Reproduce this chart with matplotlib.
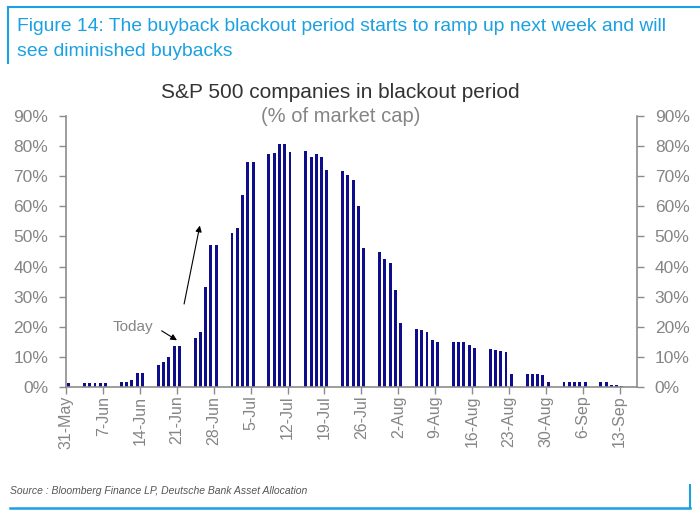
import numpy as np
import pandas as pd
import matplotlib
matplotlib.use('Agg')
import matplotlib.pyplot as plt
from matplotlib.lines import Line2D

# business days shown on the chart (no bars at weekends)
dates = pd.bdate_range('2019-05-31', '2019-09-13')

# % of S&P 500 market cap in blackout, one value per business day
blackout_pct = [
    1.5,
    1.5, 1.5, 1.5, 1.5, 1.5,
    1.8, 1.8, 2.3, 4.6, 4.6,
    7.3, 8.3, 9.9, 13.8, 13.8,
    16.2, 18.2, 33.3, 47.0, 47.0,
    51.0, 52.7, 63.7, 74.8, 74.8,
    77.2, 77.7, 80.5, 80.5, 78.1,
    78.3, 76.2, 77.2, 76.2, 71.9,
    71.7, 70.3, 68.6, 60.2, 46.3,
    44.8, 42.5, 41.1, 32.2, 21.3,
    19.2, 19.0, 18.4, 15.7, 14.9,
    14.9, 14.9, 14.9, 13.9, 13.1,
    12.6, 12.4, 12.1, 11.8, 4.4,
    4.4, 4.4, 4.4, 4.0, 1.7,
    1.7, 1.7, 1.7, 1.7, 1.7,
    1.7, 1.7, 0.8, 0.8, 0.3,
]

tick_labels = ['31-May', '7-Jun', '14-Jun', '21-Jun', '28-Jun', '5-Jul', '12-Jul',
               '19-Jul', '26-Jul', '2-Aug', '9-Aug', '16-Aug', '23-Aug', '30-Aug',
               '6-Sep', '13-Sep']
y_ticks = [0, 10, 20, 30, 40, 50, 60, 70, 80, 90]

W, H = 700, 519
BLUE = '#1BA1E2'
GREY = '#858585'
BAR = '#0E0E8C'

plt.rcParams['font.family'] = ['Liberation Sans', 'DejaVu Sans']

def fx(x):
    return x / W

def fy(y):
    return 1 - y / H

fig = plt.figure(figsize=(7.0, 5.19), dpi=100)
ax = fig.add_axes([fx(66.3), fy(387.3), fx(636.7 - 66.3), (387.3 - 115.7) / H])

x = (dates - dates[0]).days.values
ax.bar(x, blackout_pct, width=0.55, color=BAR, linewidth=0)

tick_pos = np.arange(len(tick_labels)) * 7 - 0.45
ax.set_xticks(tick_pos)
ax.set_xticklabels(tick_labels, rotation=90, color=GREY, fontsize=11.5)
ax.set_xlim(-0.45, 107.8)

ax.set_ylim(0, 90)
ax.set_yticks(y_ticks)
ax.set_yticklabels([f'{v}%' for v in y_ticks], color=GREY, fontsize=12.5)
ax.tick_params(axis='y', which='both', left=True, right=True,
               labelleft=True, labelright=True, direction='out',
               length=5, width=1, color='#8c8c8c', pad=8)
ax.tick_params(axis='x', direction='out', length=5, width=1, color='#8c8c8c', pad=1)

for side in ['left', 'right', 'bottom']:
    ax.spines[side].set_color('#8c8c8c')
    ax.spines[side].set_linewidth(1.2)
ax.spines['top'].set_visible(False)

# annotations
ax.text(12.2, 20.0, 'Today', color=GREY, fontsize=11, ha='center', va='center')
ax.annotate('', xy=(21.0, 15.1), xytext=(17.2, 19.2),
            arrowprops=dict(arrowstyle='-|>', color='black', lw=0.8, mutation_scale=9))
ax.annotate('', xy=(25.0, 54.5), xytext=(21.8, 26.7),
            arrowprops=dict(arrowstyle='-|>', color='black', lw=0.8, mutation_scale=9))

# chart titles
fig.text(fx(340.5), fy(93), 'S&P 500 companies in blackout period',
         ha='center', va='center', fontsize=15, color='#333333')
fig.text(fx(340.5), fy(117), '(% of market cap)',
         ha='center', va='center', fontsize=14.5, color=GREY)

# figure header
fig.add_artist(Line2D([fx(8.3), fx(8.3)], [fy(6.7), fy(63)], color=BLUE, lw=1.5))
fig.add_artist(Line2D([fx(8.3), fx(700)], [fy(7), fy(7)], color=BLUE, lw=1.5))
fig.text(fx(17), fy(26.7),
         'Figure 14: The buyback blackout period starts to ramp up next week and will',
         ha='left', va='center', fontsize=13.9, color=BLUE)
fig.text(fx(17), fy(51.7), 'see diminished buybacks',
         ha='left', va='center', fontsize=13.9, color=BLUE)

# footer
fig.text(fx(10), fy(491), 'Source : Bloomberg Finance LP, Deutsche Bank Asset Allocation',
         ha='left', va='center', fontsize=7.5, color='#555555', style='italic')
fig.add_artist(Line2D([fx(10), fx(690)], [fy(508), fy(508)], color=BLUE, lw=1.8))
fig.add_artist(Line2D([fx(690), fx(690)], [fy(485), fy(508)], color=BLUE, lw=1.5))

fig.savefig('out.png', dpi=100)
